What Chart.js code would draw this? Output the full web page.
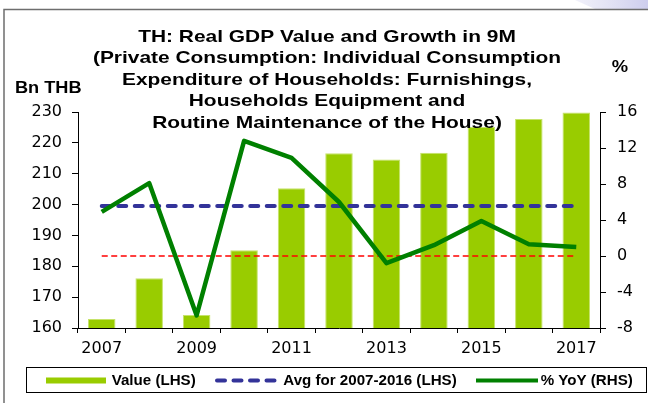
<!DOCTYPE html>
<html lang="en">
<head>
  <meta charset="UTF-8">
  <title>TH: Real GDP Value and Growth in 9M</title>
  <script src="https://cdn.jsdelivr.net/npm/chart.js"></script>
  <style>
    html, body { margin: 0; padding: 0; background: #ffffff; }
    #wrap { width: 648px; height: 403px; }
  </style>
</head>
<body>
  <div id="wrap"><canvas id="gdpChart" width="648" height="403"></canvas></div>

  <script>
    const years = ['2007', '2008', '2009', '2010', '2011', '2012', '2013', '2014', '2015', '2016', '2017'];
    const valueLHS = [162.9, 176.1, 164.2, 185.2, 205.3, 216.6, 214.6, 216.8, 225.1, 227.7, 229.8];
    const avgLHS = [199.5, 199.5, 199.5, 199.5, 199.5, 199.5, 199.5, 199.5, 199.5, 199.5, 199.5];
    const zeroRHS = [0, 0, 0, 0, 0, 0, 0, 0, 0, 0, 0];
    const yoyRHS = [4.9, 8.1, -6.6, 12.8, 10.9, 6.0, -0.8, 1.2, 3.9, 1.3, 1.0];
    const leftTicks = { min: 160, max: 230, step: 10 };
    const rightTicks = { min: -8, max: 16, step: 4 };
    const titleLines = [
      'TH: Real GDP Value and Growth in 9M',
      '(Private Consumption: Individual Consumption',
      'Expenditure of Households: Furnishings,',
      'Households Equipment and',
      'Routine Maintenance of the House)'
    ];

    const GREEN_BAR = '#99cc00';
    const BLUE = '#333399';
    const GREEN = '#008000';
    const RED = '#ff0000';

    // text drawn with a slight horizontal stretch, like the original
    function stretchText(ctx, text, x, y, font, sx, align) {
      ctx.save();
      ctx.font = font;
      ctx.fillStyle = '#000';
      ctx.textBaseline = 'alphabetic';
      const w = ctx.measureText(text).width * sx;
      let left = x;
      if (align === 'center') left = x - w / 2;
      ctx.translate(left, y);
      ctx.scale(sx, 1);
      ctx.textAlign = 'left';
      ctx.fillText(text, 0, 0);
      ctx.restore();
    }

    const framePlugin = {
      id: 'frame',
      beforeDraw(chart) {
        const ctx = chart.ctx;
        ctx.save();
        ctx.fillStyle = '#ffffff';
        ctx.fillRect(0, 0, chart.width, chart.height);
        // faint swoosh top right
        const g = ctx.createLinearGradient(570, 0, 648, 0);
        g.addColorStop(0, 'rgba(215,215,240,0.3)');
        g.addColorStop(1, 'rgba(200,200,235,0.9)');
        ctx.fillStyle = g;
        ctx.beginPath();
        ctx.moveTo(575, 0);
        ctx.lineTo(648, 0);
        ctx.lineTo(648, 9);
        ctx.lineTo(595, 9);
        ctx.closePath();
        ctx.fill();
        ctx.strokeStyle = '#6e6e6e';
        ctx.lineWidth = 1.5;
        ctx.beginPath();
        ctx.moveTo(4, 403);
        ctx.lineTo(4, 9.5);
        ctx.lineTo(648, 9.5);
        ctx.stroke();
        ctx.restore();
      }
    };

    const textPlugin = {
      id: 'texts',
      afterDraw(chart) {
        const ctx = chart.ctx;
        titleLines.forEach((line, i) => {
          stretchText(ctx, line, 327, 41.7 + i * 21.5, 'bold 17px "Liberation Sans"', 1.23, 'center');
        });
        stretchText(ctx, 'Bn THB', 48.3, 92.7, 'bold 17px "Liberation Sans"', 1.07, 'center');
        stretchText(ctx, '%', 620, 72, 'bold 17px "Liberation Sans"', 1.08, 'center');

        // legend
        ctx.save();
        ctx.strokeStyle = '#000';
        ctx.lineWidth = 1;
        ctx.strokeRect(26.5, 367.5, 620, 25);

        ctx.fillStyle = GREEN_BAR;
        ctx.fillRect(46, 377.5, 60, 6);

        ctx.strokeStyle = BLUE;
        ctx.lineWidth = 4;
        ctx.lineCap = 'round';
        ctx.setLineDash([8, 8.5]);
        ctx.beginPath();
        ctx.moveTo(217, 380.5);
        ctx.lineTo(277, 380.5);
        ctx.stroke();

        ctx.setLineDash([]);
        ctx.lineCap = 'butt';
        ctx.strokeStyle = GREEN;
        ctx.lineWidth = 4;
        ctx.beginPath();
        ctx.moveTo(476, 380.5);
        ctx.lineTo(538, 380.5);
        ctx.stroke();
        ctx.restore();

        const lf = 'bold 14px "Liberation Sans"';
        stretchText(ctx, 'Value (LHS)', 111.7, 385.3, lf, 1.08, 'left');
        stretchText(ctx, 'Avg for 2007-2016 (LHS)', 283.3, 385.3, lf, 1.08, 'left');
        stretchText(ctx, '% YoY (RHS)', 540.7, 385.3, lf, 1.08, 'left');
      }
    };

    Chart.defaults.font.family = '"DejaVu Sans", sans-serif';
    Chart.defaults.font.size = 16;
    Chart.defaults.color = '#000000';

    const axisGrid = { drawOnChartArea: false, drawTicks: true, tickLength: 6, color: '#000000' };

    new Chart(document.getElementById('gdpChart'), {
      type: 'bar',
      data: {
        labels: years,
        datasets: [
          {
            type: 'line',
            label: '% YoY (RHS)',
            data: yoyRHS,
            yAxisID: 'y1',
            borderColor: GREEN,
            borderWidth: 4.5,
            borderJoinStyle: 'round',
            pointRadius: 0,
            tension: 0,
            order: 1
          },
          {
            type: 'line',
            label: 'Avg for 2007-2016 (LHS)',
            data: avgLHS,
            yAxisID: 'y',
            borderColor: BLUE,
            borderWidth: 4,
            borderDash: [8, 8.5],
            borderCapStyle: 'round',
            pointRadius: 0,
            order: 2
          },
          {
            type: 'line',
            label: 'zero',
            data: zeroRHS,
            yAxisID: 'y1',
            borderColor: RED,
            borderWidth: 1.6,
            borderDash: [6, 3.5],
            pointRadius: 0,
            order: 3
          },
          {
            label: 'Value (LHS)',
            data: valueLHS,
            yAxisID: 'y',
            backgroundColor: GREEN_BAR,
            borderColor: '#c6e36a',
            borderWidth: 1,
            categoryPercentage: 1,
            barPercentage: 0.58,
            order: 4
          }
        ]
      },
      options: {
        responsive: false,
        animation: false,
        events: [],
        layout: { padding: { top: 112, left: 0, right: 0, bottom: 45 } },
        plugins: {
          legend: { display: false },
          tooltip: { enabled: false },
          title: { display: false }
        },
        scales: {
          x: {
            offset: true,
            grid: { ...axisGrid, offset: true, tickLength: 5 },
            border: { display: true, color: '#000000', width: 1 },
            ticks: {
              autoSkip: false,
              maxRotation: 0,
              padding: 6,
              callback: function (v, i) { return i % 2 === 0 ? this.getLabelForValue(v) : ''; }
            },
            afterFit: (s) => { s.height = 30; }
          },
          y: {
            position: 'left',
            min: leftTicks.min,
            max: leftTicks.max,
            grid: axisGrid,
            border: { display: true, color: '#000000', width: 1 },
            ticks: { stepSize: leftTicks.step, padding: 10 },
            afterFit: (s) => { s.width = 78; }
          },
          y1: {
            position: 'right',
            min: rightTicks.min,
            max: rightTicks.max,
            grid: axisGrid,
            border: { display: true, color: '#000000', width: 1 },
            ticks: { stepSize: rightTicks.step, padding: 11 },
            afterFit: (s) => { s.width = 48; }
          }
        }
      },
      plugins: [framePlugin, textPlugin]
    });
  </script>
</body>
</html>
